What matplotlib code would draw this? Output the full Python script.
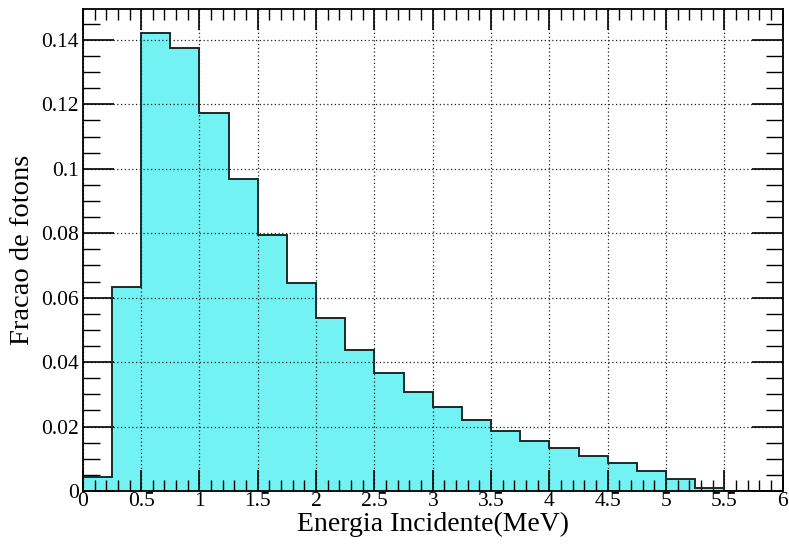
import numpy as np
import matplotlib
matplotlib.use("Agg")
import matplotlib.pyplot as plt
from matplotlib.ticker import MultipleLocator, FuncFormatter

bin_edges = [0.0, 0.25, 0.5, 0.75, 1.0, 1.25, 1.5, 1.75, 2.0, 2.25, 2.5, 2.75,
             3.0, 3.25, 3.5, 3.75, 4.0, 4.25, 4.5, 4.75, 5.0, 5.25, 5.5, 5.75, 6.0]
fractions = [0.0045, 0.0634, 0.1420, 0.1376, 0.1173, 0.0969, 0.0795, 0.0645,
             0.0536, 0.0438, 0.0366, 0.0308, 0.0261, 0.0222, 0.0187, 0.0156,
             0.0133, 0.0108, 0.0086, 0.0062, 0.0038, 0.0008, 0.0, 0.0]

plt.rcParams['font.family'] = ['Liberation Serif', 'DejaVu Serif']

fig = plt.figure(figsize=(7.89, 5.45), dpi=100)
ax = fig.add_axes([0.105, 0.099, 0.887, 0.884])

ax.stairs(fractions, bin_edges, fill=True, color='#72f2f2', zorder=1)
ax.stairs(fractions, bin_edges, fill=False, color='#1a2a2a', linewidth=1.4, zorder=3)

ax.set_xlim(0, 6)
ax.set_ylim(0, 0.1495)
ax.xaxis.set_major_locator(MultipleLocator(0.5))
ax.xaxis.set_minor_locator(MultipleLocator(0.1))
ax.yaxis.set_major_locator(MultipleLocator(0.02))
ax.yaxis.set_minor_locator(MultipleLocator(0.005))

def fmt(v, pos):
    s = ('%.2f' % v).rstrip('0').rstrip('.')
    return s if s else '0'
ax.xaxis.set_major_formatter(FuncFormatter(fmt))
ax.yaxis.set_major_formatter(FuncFormatter(fmt))

ax.grid(True, which='major', linestyle=(0, (1, 2)), color='#222222', linewidth=0.9, zorder=2)
ax.set_axisbelow(False)

ax.tick_params(which='both', direction='in', top=True, right=True, labelsize=15.5)
ax.tick_params(axis='y', which='major', length=22, width=1.2, pad=3)
ax.tick_params(axis='y', which='minor', length=12, width=1.0)
ax.tick_params(axis='x', which='major', length=15, width=1.2)
ax.tick_params(axis='x', which='minor', length=8, width=1.0)
ax.tick_params(axis='x', pad=1)

for sp in ax.spines.values():
    sp.set_linewidth(1.3)
    sp.set_zorder(4)

ax.set_xlabel('Energia Incidente(MeV)', fontsize=20, labelpad=0.5)
ax.set_ylabel('Fracao de fotons', fontsize=20.5, labelpad=4)

fig.savefig('out.png', dpi=100)
